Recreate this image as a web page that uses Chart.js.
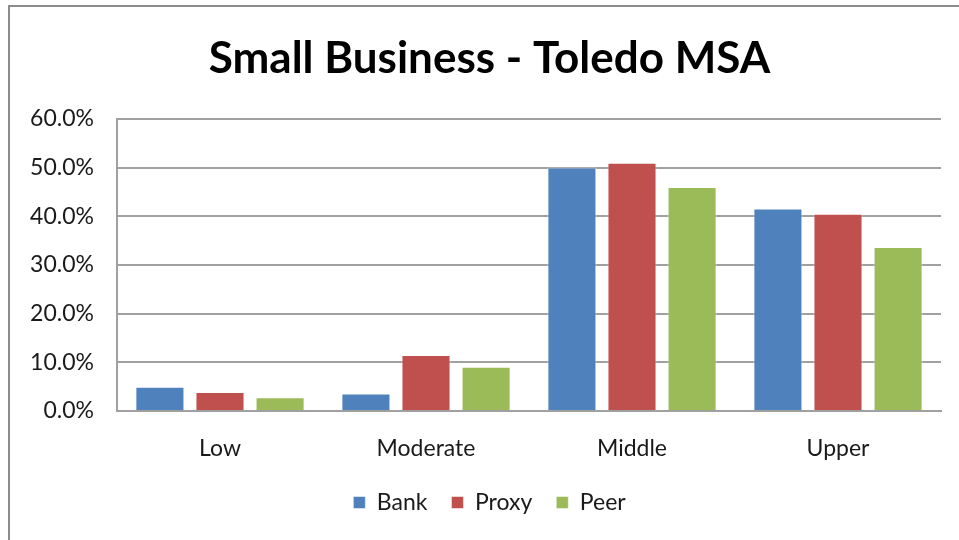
<!DOCTYPE html>
<html>
<head>
<meta charset="utf-8">
<script src="https://cdn.jsdelivr.net/npm/chart.js@4"></script>
<style>
    html, body { margin: 0; padding: 0; background: #fff; }
    #wrap { position: relative; width: 959px; height: 540px; }
    #frame {
        position: absolute; left: 8px; top: 5px; right: -10px; bottom: -10px;
        border-top: 2px solid #8c8c8c; border-left: 2px solid #8c8c8c;
        pointer-events: none;
    }
</style>
</head>
<body>
<div id="wrap">
    <canvas id="chart" width="959" height="540"></canvas>
    <div id="frame"></div>
</div>
<script>
// === Data ===
const categories = ["Low", "Moderate", "Middle", "Upper"];
const bankValues = [5.0, 3.6, 50.0, 41.6];
const proxyValues = [3.9, 11.5, 51.0, 40.5];
const peerValues = [2.8, 9.1, 46.0, 33.7];
const yTicks = [0, 10, 20, 30, 40, 50, 60];

// === Styling ===
const chartProps = {
    bankColor: "#4F81BD",
    proxyColor: "#C0504D",
    peerColor: "#9BBB59",
    gridColor: "#a0a0a0",
    textColor: "#1a1a1a",
    fontFamily: "Lato, 'Liberation Sans', sans-serif",
    headerShift: 19
};

function makeDataset(label, data, color) {
    return {
        label: label,
        data: data,
        backgroundColor: color,
        borderColor: "rgba(255,255,255,0.5)",
        borderWidth: 1,
        categoryPercentage: 0.875,
        barPercentage: 0.817
    };
}

// title and legend sit a little right of the canvas centre in the original
const shiftHeaderPlugin = {
    id: "shiftHeader",
    afterLayout(chart) {
        [chart.titleBlock, chart.legend].forEach(box => {
            if (box) {
                box.left += chartProps.headerShift;
                box.right += chartProps.headerShift;
            }
        });
    }
};

new Chart(document.getElementById("chart"), {
    type: "bar",
    data: {
        labels: categories,
        datasets: [
            makeDataset("Bank", bankValues, chartProps.bankColor),
            makeDataset("Proxy", proxyValues, chartProps.proxyColor),
            makeDataset("Peer", peerValues, chartProps.peerColor)
        ]
    },
    plugins: [shiftHeaderPlugin],
    options: {
        responsive: false,
        animation: false,
        layout: { padding: { left: 0, right: 18, top: 0, bottom: 16 } },
        scales: {
            x: {
                grid: { display: false, drawTicks: false },
                border: { display: true, color: chartProps.gridColor, width: 2 },
                ticks: {
                    color: chartProps.textColor,
                    padding: 24,
                    font: { family: chartProps.fontFamily, size: 23 }
                },
                afterFit: scale => { scale.height = 56; }
            },
            y: {
                min: 0,
                max: 60,
                afterBuildTicks: scale => {
                    scale.ticks = yTicks.map(v => ({ value: v }));
                },
                grid: { color: chartProps.gridColor, lineWidth: 2, drawTicks: false },
                border: { display: true, color: chartProps.gridColor, width: 2 },
                ticks: {
                    color: chartProps.textColor,
                    padding: 23,
                    callback: v => v.toFixed(1) + "%",
                    font: { family: chartProps.fontFamily, size: 23 }
                },
                afterFit: scale => { scale.width = 117; }
            }
        },
        plugins: {
            title: {
                display: true,
                text: "Small Business - Toledo MSA",
                color: "#000",
                font: { family: chartProps.fontFamily, size: 44, weight: "bold" },
                padding: { top: 32, bottom: 34 }
            },
            legend: {
                display: true,
                position: "bottom",
                labels: {
                    color: chartProps.textColor,
                    boxWidth: 12,
                    boxHeight: 12,
                    padding: 24,
                    font: { family: chartProps.fontFamily, size: 23 }
                }
            },
            tooltip: { enabled: false }
        }
    }
});
</script>
</body>
</html>
